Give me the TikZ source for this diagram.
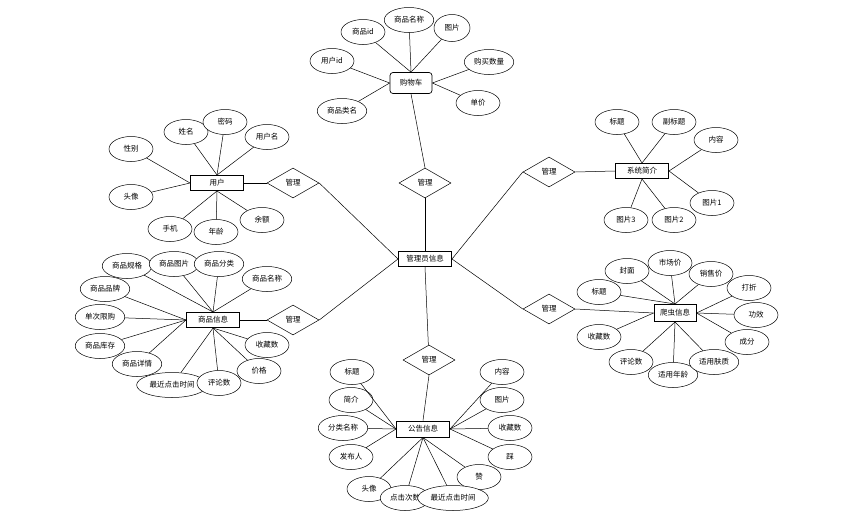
\documentclass[tikz,border=0pt]{standalone}
\usepackage{fontspec}
\newfontfamily\cjk{Noto Sans CJK SC}
\usetikzlibrary{shapes.geometric}

\begin{document}
\begin{tikzpicture}[x=1pt, y=-1pt, line width=0.5pt,
      every node/.style={font=\cjk\fontsize{7.5}{8.5}\selectfont},
      attr/.style={ellipse, draw, fill=white, inner xsep=2.5pt, inner ysep=1pt, minimum width=44pt, minimum height=25pt},
      ent/.style={rectangle, draw, fill=white, line width=1pt, minimum width=53pt, minimum height=15pt, inner sep=1pt},
      rel/.style={diamond, draw, fill=white, aspect=1.75, minimum width=52pt, minimum height=30pt, inner sep=0pt}]
      \useasboundingbox (0,0) rectangle (854,525);
      % 管理员信息
      \node[ent] (admin) at (425,259) {管理员信息};
      \node[rel] (rcart) at (425,183) {管理};
      \node[rel] (ruser) at (293,183) {管理};
      \node[rel] (rgoods) at (293,320) {管理};
      \node[rel] (rintro) at (549,172) {管理};
      \node[rel] (rspider) at (549,309) {管理};
      \node[rel] (rnotice) at (429,360) {管理};
      \draw (rcart) -- (admin.north) ;
      \draw (ruser.east) -- (admin.west) ;
      \draw (rgoods.east) -- (admin.west) ;
      \draw (rintro.west) -- (admin.east) ;
      \draw (rspider.west) -- (admin.east) ;
      \draw (rnotice) -- (admin.south) ;
      % 购物车
      \node[ent, line width=0.7pt, rounded corners=3pt, minimum width=42pt, minimum height=21pt] (cart) at (411,83) {购物车};
      \node[attr] (c1) at (363,32) {商品id};
      \node[attr] (c2) at (409,20) {商品名称};
      \node[attr, minimum width=36pt, minimum height=27pt] (c3) at (452,28) {图片};
      \node[attr] (c4) at (332,61) {用户id};
      \node[attr] (c5) at (489,62) {购买数量};
      \node[attr] (c6) at (478,103) {单价};
      \node[attr] (c7) at (342,111) {商品类名};
      \foreach \a in {c1, c2, c3}
      \draw (\a) -- (cart.north) ;
      \foreach \a in {c4, c7}
      \draw (\a) -- (cart.west) ;
      \foreach \a in {c5, c6}
      \draw (\a) -- (cart.east) ;
      \draw (cart.south) -- (rcart.north) ;
      % 用户
      \node[ent] (user) at (217,183) {用户};
      \node[attr] (u1) at (131,149) {性别};
      \node[attr] (u2) at (186,132) {姓名};
      \node[attr] (u3) at (225,122) {密码};
      \node[attr] (u4) at (267,137) {用户名};
      \node[attr] (u5) at (131,197) {头像};
      \node[attr] (u6) at (170,229) {手机};
      \node[attr] (u7) at (216,232) {年龄};
      \node[attr] (u8) at (262,220) {余额};
      \foreach \a in {u2, u3, u4}
      \draw (\a) -- (user.north) ;
      \foreach \a in {u1, u5}
      \draw (\a) -- (user.west) ;
      \foreach \a in {u6, u7, u8}
      \draw (\a) -- (user.south) ;
      \draw (user.east) -- (ruser.west) ;
      % 商品信息
      \node[ent] (goods) at (213,320) {商品信息};
      \node[attr] (g1) at (127,266) {商品规格};
      \node[attr] (g2) at (174,264) {商品图片};
      \node[attr] (g3) at (219,264) {商品分类};
      \node[attr] (g4) at (267,279) {商品名称};
      \node[attr] (g5) at (105,289) {商品品牌};
      \node[attr] (g6) at (100,317) {单次限购};
      \node[attr] (g7) at (100,346) {商品库存};
      \node[attr] (g8) at (137,364) {商品详情};
      \node[attr] (g9) at (172,385) {最近点击时间};
      \node[attr] (g10) at (219,383) {评论数};
      \node[attr] (g11) at (267,345) {收藏数};
      \node[attr] (g12) at (259,371) {价格};
      \foreach \a in {g1, g2, g3, g4}
      \draw (\a) -- (goods.north) ;
      \foreach \a in {g5, g6, g7, g8}
      \draw (\a) -- (goods.west) ;
      \foreach \a in {g9, g10, g11, g12}
      \draw (\a) -- (goods.south) ;
      \draw (goods.east) -- (rgoods.west) ;
      % 系统简介
      \node[ent] (intro) at (642,171) {系统简介};
      \node[attr] (i1) at (617,122) {标题};
      \node[attr] (i2) at (674,122) {副标题};
      \node[attr] (i3) at (716,140) {内容};
      \node[attr] (i4) at (712,203) {图片1};
      \node[attr] (i5) at (626,220) {图片3};
      \node[attr] (i6) at (674,220) {图片2};
      \foreach \a in {i1, i2}
      \draw (\a) -- (intro.north) ;
      \foreach \a in {i3, i4}
      \draw (\a) -- (intro.east) ;
      \foreach \a in {i5, i6}
      \draw (\a) -- (intro.south) ;
      \draw (intro.west) -- (rintro.east) ;
      % 爬虫信息
      \node[ent, minimum width=42pt, minimum height=17pt] (spider) at (675,313) {爬虫信息};
      \node[attr] (s1) at (599,292) {标题};
      \node[attr] (s2) at (627,271) {封面};
      \node[attr] (s3) at (670,263) {市场价};
      \node[attr] (s4) at (711,274) {销售价};
      \node[attr] (s5) at (749,288) {打折};
      \node[attr] (s6) at (756,315) {功效};
      \node[attr] (s7) at (747,342) {成分};
      \node[attr] (s8) at (599,337) {收藏数};
      \node[attr] (s9) at (631,362) {评论数};
      \node[attr] (s10) at (673,375) {适用年龄};
      \node[attr] (s11) at (714,362) {适用肤质};
      \foreach \a in {s1, s2, s3, s4}
      \draw (\a) -- (spider.north) ;
      \foreach \a in {s5, s6, s7}
      \draw (\a) -- (spider.east) ;
      \draw (s8) -- (spider.west) ;
      \foreach \a in {s9, s10, s11}
      \draw (\a) -- (spider.south) ;
      \draw (spider.west) -- (rspider.east) ;
      % 公告信息
      \node[ent, minimum height=16pt] (notice) at (423,429) {公告信息};
      \node[attr] (n1) at (352,372) {标题};
      \node[attr] (n2) at (351,400) {简介};
      \node[attr] (n3) at (343,428) {分类名称};
      \node[attr] (n4) at (351,457) {发布人};
      \node[attr] (n5) at (502,372) {内容};
      \node[attr] (n6) at (502,400) {图片};
      \node[attr] (n7) at (510,428) {收藏数};
      \node[attr] (n8) at (510,457) {踩};
      \node[attr] (n9) at (479,477) {赞};
      \node[attr] (n10) at (369,489) {头像};
      \node[attr] (n11) at (405,498) {点击次数};
      \node[attr] (n12) at (453,498) {最近点击时间};
      \foreach \a in {n1, n2, n3, n4}
      \draw (\a) -- (notice.west) ;
      \foreach \a in {n5, n6, n7, n8}
      \draw (\a) -- (notice.east) ;
      \foreach \a in {n9, n10, n11, n12}
      \draw (\a) -- (notice.south) ;
      \draw (notice.north) -- (rnotice.south) ;
    \end{tikzpicture}
\end{document}
